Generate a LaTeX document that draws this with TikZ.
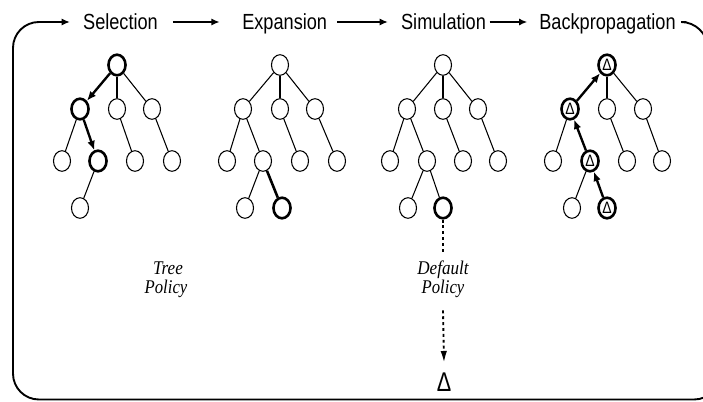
\documentclass[tikz,border=0pt]{standalone}
\usepackage{fontspec}
\setmainfont{Liberation Serif}
\setsansfont{Liberation Sans}
\usetikzlibrary{arrows.meta,shapes.geometric}
\newcommand\myxs[2]{\scalebox{#1}[1]{#2}}
\begin{document}
\begin{tikzpicture}[x=0.85pt,y=-0.85pt,
  nd/.style={ellipse, draw, line width=0.9pt, minimum width=14.5pt, minimum height=17.5pt, inner sep=0pt},
  bnd/.style={nd, line width=2.2pt},
  dnd/.style={bnd, font=\sffamily\fontsize{14}{14}\selectfont},
  tedge/.style={line width=0.9pt},
  bedge/.style={line width=2.2pt},
  barrow/.style={line width=2pt, -{Latex[length=8pt,width=6.5pt]}},
  title/.style={font=\sffamily\fontsize{18.6}{20}\selectfont, text height=13.3pt, text depth=0pt, inner sep=0pt},
  topar/.style={line width=1.6pt, -{Latex[length=7pt,width=6pt]}},
  frame/.style={line width=1.6pt, rounded corners=22pt, -{Latex[length=7pt,width=6pt]}},
  pol/.style={font=\itshape\fontsize{16.5}{16.5}\selectfont, inner sep=0pt, anchor=base},
  dotted line/.style={line width=1.6pt, dash pattern=on 2.5pt off 2.5pt},
  dotar/.style={dotted line, -{Latex[length=10pt,width=5.5pt]}}]
\useasboundingbox (0,0) rectangle (703,401);
\clip (0,0) rectangle (703,401);

% titles
\node[title] (sel) at (120.5,22) {\myxs{0.83}{Selection}};
\node[title] (exp) at (284.7,22) {\myxs{0.83}{Expansion}};
\node[title] (sim) at (443.5,22) {\myxs{0.83}{Simulation}};
\node[title] (bp)  at (607.5,22) {\myxs{0.83}{Backpropagation}};
\draw[topar] ([xshift=12.5pt]sel.east) -- ([xshift=-19pt]exp.west);
\draw[topar] ([xshift=8.5pt]exp.east) -- ([xshift=-11pt]sim.west);
\draw[topar] ([xshift=3pt]sim.east) -- ([xshift=-10pt]bp.west);
\draw[frame] ([xshift=9pt]bp.east) -- (707,22) -- (720,399.5) -- (13,399.5) -- (13,22) -- ([xshift=-11pt]sel.west);

% tree 1 : Selection
\node[bnd] (t1r) at (117,65) {};
\node[bnd] (t1a) at (80,109) {};
\node[nd]  (t1b) at (117,109) {};
\node[nd]  (t1c) at (152,109) {};
\node[nd]  (t1d) at (62,161) {};
\node[bnd] (t1e) at (98,161) {};
\node[nd]  (t1f) at (135,161) {};
\node[nd]  (t1g) at (172,161) {};
\node[nd]  (t1h) at (80,208) {};
\draw[barrow] (t1r) -- (t1a);
\draw[tedge] (t1r) -- (t1b);
\draw[tedge] (t1r) -- (t1c);
\draw[tedge] (t1a) -- (t1d);
\draw[barrow] (t1a) -- (t1e);
\draw[tedge] (t1b) -- (t1f);
\draw[tedge] (t1c) -- (t1g);
\draw[tedge] (t1e) -- (t1h);

% tree 2 : Expansion
\node[nd]  (t2r) at (280,65) {};
\node[nd]  (t2a) at (243,109) {};
\node[nd]  (t2b) at (280,109) {};
\node[nd]  (t2c) at (315,109) {};
\node[nd]  (t2d) at (227,161) {};
\node[nd]  (t2e) at (263,161) {};
\node[nd]  (t2f) at (300,161) {};
\node[nd]  (t2g) at (337,161) {};
\node[nd]  (t2h) at (245,208) {};
\node[bnd] (t2i) at (282,208) {};
\draw[tedge] (t2r) -- (t2a);
\draw[tedge] (t2r) -- (t2b);
\draw[tedge] (t2r) -- (t2c);
\draw[tedge] (t2a) -- (t2d);
\draw[tedge] (t2a) -- (t2e);
\draw[tedge] (t2b) -- (t2f);
\draw[tedge] (t2c) -- (t2g);
\draw[tedge] (t2e) -- (t2h);
\draw[bedge] (t2e) -- (t2i);

% tree 3 : Simulation
\node[nd]  (t3r) at (443,65) {};
\node[nd]  (t3a) at (407,109) {};
\node[nd]  (t3b) at (443,109) {};
\node[nd]  (t3c) at (478,109) {};
\node[nd]  (t3d) at (390,161) {};
\node[nd]  (t3e) at (427,161) {};
\node[nd]  (t3f) at (463,161) {};
\node[nd]  (t3g) at (498,161) {};
\node[nd]  (t3h) at (408,208) {};
\node[bnd] (t3i) at (443,208) {};
\draw[tedge] (t3r) -- (t3a);
\draw[tedge] (t3r) -- (t3b);
\draw[tedge] (t3r) -- (t3c);
\draw[tedge] (t3a) -- (t3d);
\draw[tedge] (t3a) -- (t3e);
\draw[tedge] (t3b) -- (t3f);
\draw[tedge] (t3c) -- (t3g);
\draw[tedge] (t3e) -- (t3h);
\draw[tedge] (t3e) -- (t3i);

% tree 4 : Backpropagation
\node[dnd] (t4r) at (607,65) {\myxs{0.85}{Δ}};
\node[dnd] (t4a) at (570,109) {\myxs{0.85}{Δ}};
\node[nd]  (t4b) at (607,109) {};
\node[nd]  (t4c) at (643,109) {};
\node[nd]  (t4d) at (553,161) {};
\node[dnd] (t4e) at (590,161) {\myxs{0.85}{Δ}};
\node[nd]  (t4f) at (627,161) {};
\node[nd]  (t4g) at (662,161) {};
\node[nd]  (t4h) at (572,208) {};
\node[dnd] (t4i) at (607,208) {\myxs{0.85}{Δ}};
\draw[barrow] (t4a) -- (t4r);
\draw[tedge] (t4r) -- (t4b);
\draw[tedge] (t4r) -- (t4c);
\draw[tedge] (t4a) -- (t4d);
\draw[barrow] (t4e) -- (t4a);
\draw[tedge] (t4b) -- (t4f);
\draw[tedge] (t4c) -- (t4g);
\draw[tedge] (t4e) -- (t4h);
\draw[barrow] (t4i) -- (t4e);

% policies
\node[pol] (tp1) at (168,274.5) {\myxs{0.88}{Tree}};
\node[pol] (tp2) at (166,293) {\myxs{0.86}{Policy}};
\node[pol] (dp1) at (443,274.5) {\myxs{0.88}{Default}};
\node[pol] (dp2) at (443,293) {\myxs{0.86}{Policy}};
\node[font=\sffamily\fontsize{23}{23}\selectfont, inner sep=0pt] (res) at (444,381.7) {\myxs{0.8}{Δ}};
\draw[dotted line] (t3i) -- ([yshift=5pt]dp1.north);
\draw[dotar] ([yshift=-11pt]dp2.south) -- ([yshift=8pt]res.north);
\end{tikzpicture}
\end{document}
